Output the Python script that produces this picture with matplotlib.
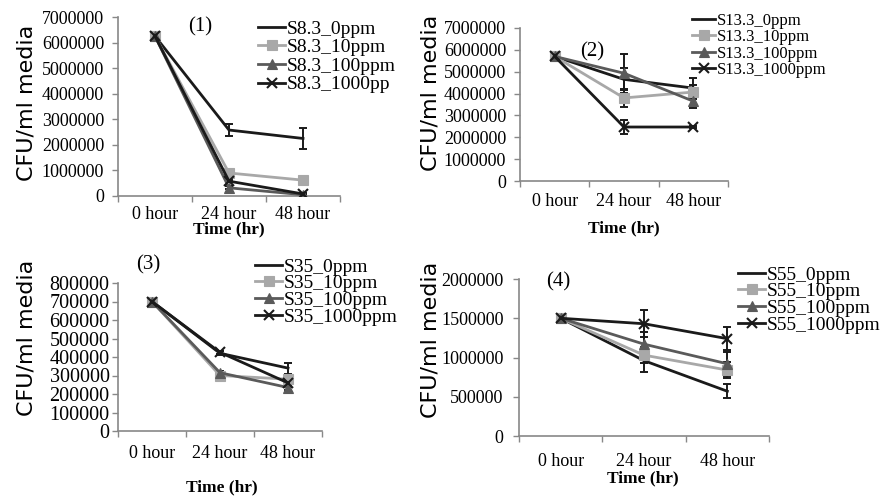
import numpy as np
import matplotlib.pyplot as plt

# -------------------------------
# data
# -------------------------------
times = ["0 hour", "24 hour", "48 hour"]

s8_labels = ["S8.3_0ppm", "S8.3_10ppm", "S8.3_100ppm", "S8.3_1000pp"]
s8_vals = [[6250000, 2580000, 2250000],
           [6250000, 900000, 620000],
           [6250000, 320000, 50000],
           [6250000, 580000, 80000]]
s8_err = [[0, 220000, 400000],
          [0, 60000, 80000],
          [0, 60000, 30000],
          [0, 40000, 30000]]

s13_labels = ["S13.3_0ppm", "S13.3_10ppm", "S13.3_100ppm", "S13.3_1000ppm"]
s13_vals = [[5700000, 4650000, 4250000],
            [5700000, 3800000, 4070000],
            [5700000, 4930000, 3650000],
            [5700000, 2470000, 2470000]]
s13_err = [[0, 500000, 450000],
           [0, 400000, 300000],
           [0, 900000, 300000],
           [0, 300000, 60000]]

s35_labels = ["S35_0ppm", "S35_10ppm", "S35_100ppm", "S35_1000ppm"]
s35_vals = [[700000, 420000, 340000],
            [700000, 300000, 280000],
            [700000, 315000, 235000],
            [700000, 425000, 260000]]
s35_err = [[0, 10000, 30000],
           [0, 15000, 20000],
           [0, 10000, 15000],
           [0, 10000, 20000]]

s55_labels = ["S55_0ppm", "S55_10ppm", "S55_100ppm", "S55_1000ppm"]
s55_vals = [[1500000, 960000, 570000],
            [1500000, 1030000, 840000],
            [1500000, 1170000, 920000],
            [1500000, 1430000, 1240000]]
s55_err = [[0, 140000, 90000],
           [0, 100000, 100000],
           [0, 150000, 150000],
           [0, 170000, 150000]]

colors = ["#1a1a1a", "#a8a8a8", "#5a5a5a", "#1a1a1a"]
markers = ["none", "s", "^", "x"]

SERIF = "Liberation Serif"
W, H = 880, 498

fig = plt.figure(figsize=(W / 100, H / 100), dpi=100)


def fx(px):
    return px / W


def fy(py):
    return 1 - py / H


def panel(box, vals, errs, labels, ymax, ystep, ytick_fs, xpad, ypad,
          leg_xy, leg_fs, leg_sp, tag, tag_xy, ylab_xy, xlab_xy):
    l, t, r, b = box
    ax = fig.add_axes([fx(l), fy(b), fx(r) - fx(l), (b - t) / H])
    x = np.arange(1, len(times) + 1)
    handles = []
    for v, e, c, m in zip(vals, errs, colors, markers):
        ax.errorbar(x, v, yerr=e, fmt="none", ecolor="#1a1a1a",
                    elinewidth=1.4, capsize=3, capthick=1.4, zorder=2)
        h, = ax.plot(x, v, color=c, marker=m, markersize=7, lw=2,
                     markeredgewidth=1.5 if m == "x" else 0.8, zorder=3)
        handles.append(h)

    ax.set_xlim(0.5, 3.5)
    ax.set_ylim(0, ymax)
    ax.set_yticks(np.arange(0, ymax + 1, ystep))
    ax.set_yticklabels([str(int(v)) for v in np.arange(0, ymax + 1, ystep)],
                       family=SERIF, fontsize=ytick_fs)
    ax.set_xticks(x)
    ax.set_xticklabels(times, family=SERIF, fontsize=13)
    ax.set_xticks([0.5, 1.5, 2.5, 3.5], minor=True)
    ax.tick_params(axis="x", which="major", length=0, pad=xpad)
    ax.tick_params(axis="x", which="minor", length=4, color="#888888", width=1)
    ax.tick_params(axis="y", length=4, color="#888888", width=1, pad=ypad)
    for s in ["top", "right"]:
        ax.spines[s].set_visible(False)
    for s in ["left", "bottom"]:
        ax.spines[s].set_color("#888888")
        ax.spines[s].set_linewidth(1.2)

    ax.legend(handles, labels, loc="upper left",
              bbox_to_anchor=(fx(leg_xy[0]), fy(leg_xy[1])),
              bbox_transform=fig.transFigure, frameon=False,
              handlelength=1.4, handletextpad=0.1, borderpad=0,
              borderaxespad=0, labelspacing=leg_sp,
              prop={"family": SERIF, "size": leg_fs})

    fig.text(fx(tag_xy[0]), fy(tag_xy[1]), tag, family=SERIF, fontsize=15,
             ha="center", va="center")
    fig.text(fx(ylab_xy[0]), fy(ylab_xy[1]), "CFU/ml media",
             family="DejaVu Sans", fontsize=16, rotation=90,
             ha="center", va="center")
    fig.text(fx(xlab_xy[0]), fy(xlab_xy[1]), "Time (hr)", family=SERIF,
             fontsize=12.5, fontweight="bold", ha="center", va="center")
    return ax


panel((118, 17, 340, 196), s8_vals, s8_err, s8_labels, 7000000, 1000000, 13,
      7, 6, (258, 20), 14, 0.05, "(1)", (200, 27), (27, 103), (229, 229))
panel((520, 28, 728, 181), s13_vals, s13_err, s13_labels, 7000000, 1000000, 13,
      8.5, 6, (692, 13), 12, 0.02, "(2)", (592, 52), (430, 93), (624, 228))
panel((118, 283, 322, 431), s35_vals, s35_err, s35_labels, 800000, 100000, 14.5,
      10, 2, (255, 258), 14, -0.05, "(3)", (148, 265), (27, 338), (222, 487))
panel((519, 279, 769, 436), s55_vals, s55_err, s55_labels, 2000000, 500000, 13,
      12, 7, (738, 266), 14, -0.05, "(4)", (558, 282), (430, 340), (643, 478))

fig.savefig("out.png", dpi=100)
